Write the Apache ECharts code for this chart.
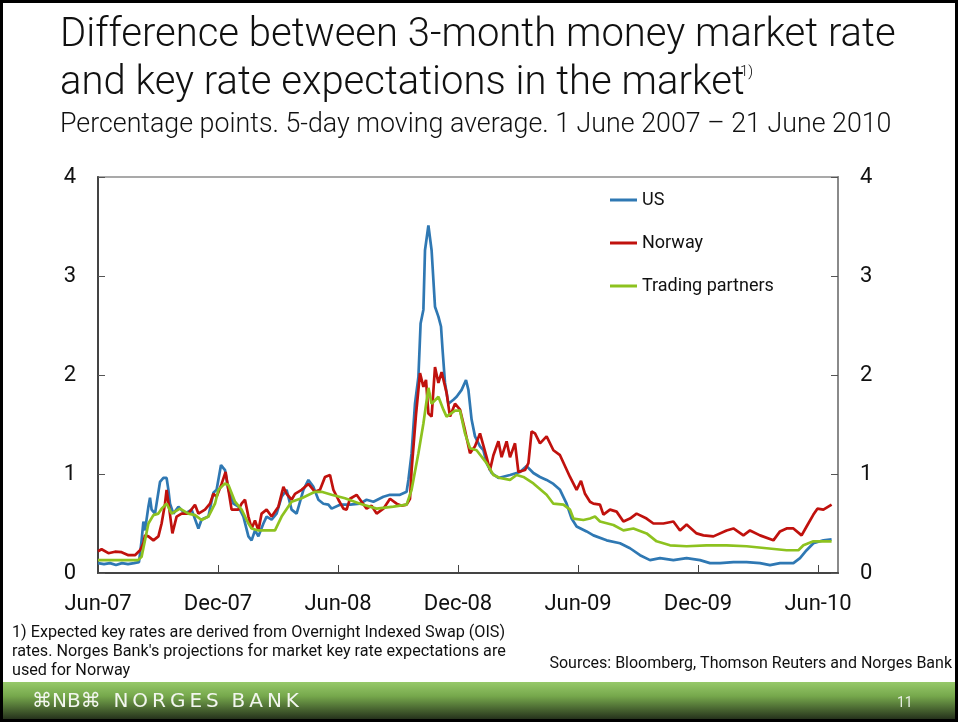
<!DOCTYPE html>
<html>
<head>
<meta charset="utf-8">
<script src="https://cdn.jsdelivr.net/npm/echarts@6/dist/echarts.min.js"></script>
<style>
html,body{margin:0;padding:0;background:#fff;}
#chart{width:958px;height:722px;}
</style>
</head>
<body>
<div id="chart"></div>
<script>
// x values: months since 1 June 2007
const xTickLabels = ['Jun-07','Dec-07','Jun-08','Dec-08','Jun-09','Dec-09','Jun-10'];
const yTickLabels = ['0','1','2','3','4'];
const seriesNames = ['US','Norway','Trading partners'];

const usData = [[0,0.10],[0.3,0.09],[0.6,0.10],[0.9,0.08],[1.2,0.10],[1.5,0.09],[1.8,0.10],[2.05,0.11],
[2.18,0.33],[2.27,0.52],[2.35,0.43],[2.52,0.67],[2.6,0.76],[2.68,0.64],[2.85,0.60],[3.1,0.92],[3.27,0.96],
[3.43,0.96],[3.52,0.84],[3.6,0.70],[3.77,0.60],[4.02,0.67],[4.35,0.60],[4.68,0.64],[5.02,0.45],[5.18,0.54],
[5.52,0.57],[5.77,0.81],[5.93,0.84],[6.15,1.09],[6.35,1.04],[6.52,0.84],[6.77,0.70],[7.02,0.67],[7.27,0.57],
[7.52,0.37],[7.68,0.33],[7.85,0.43],[8.02,0.37],[8.27,0.50],[8.43,0.57],[8.68,0.54],[8.93,0.60],[9.18,0.77],
[9.43,0.84],[9.68,0.64],[9.93,0.60],[10.27,0.84],[10.52,0.94],[10.77,0.87],[11.02,0.74],[11.27,0.70],
[11.52,0.69],[11.68,0.65],[12.1,0.69],[12.6,0.69],[13.1,0.70],[13.43,0.74],[13.77,0.72],[14.27,0.77],
[14.6,0.79],[15.1,0.79],[15.43,0.82],[15.52,0.94],[15.68,1.21],[15.85,1.71],[16.02,1.98],[16.13,2.52],
[16.27,2.66],[16.35,3.26],[16.52,3.51],[16.68,3.26],[16.85,2.69],[17.02,2.59],[17.15,2.49],[17.23,2.25],
[17.35,1.92],[17.52,1.71],[17.77,1.75],[17.93,1.78],[18.18,1.85],[18.4,1.95],[18.52,1.85],[18.68,1.55],
[18.85,1.38],[19.1,1.28],[19.27,1.24],[19.43,1.11],[19.68,1.01],[20.02,0.96],[20.6,0.99],[21.1,1.02],
[21.43,1.08],[21.77,1.01],[22.1,0.97],[22.43,0.94],[22.77,0.90],[23.1,0.84],[23.43,0.70],[23.68,0.55],
[23.93,0.47],[24.43,0.42],[24.77,0.38],[25.43,0.33],[26.1,0.30],[26.6,0.25],[27.1,0.18],[27.6,0.13],
[28.1,0.15],[28.77,0.13],[29.43,0.15],[30.1,0.13],[30.6,0.10],[31.1,0.10],[31.77,0.11],[32.43,0.11],
[33.1,0.10],[33.6,0.08],[34.1,0.10],[34.77,0.10],[35.1,0.15],[35.43,0.23],[35.77,0.30],[36.27,0.33],[36.68,0.34]];

const norwayData = [[0,0.22],[0.18,0.24],[0.52,0.20],[0.85,0.215],[1.18,0.21],[1.52,0.18],[1.85,0.18],[2.1,0.23],
[2.27,0.30],[2.35,0.38],[2.52,0.37],[2.77,0.33],[3.02,0.37],[3.18,0.50],[3.35,0.70],[3.43,0.84],[3.55,0.67],
[3.72,0.40],[3.93,0.57],[4.18,0.60],[4.52,0.60],[4.85,0.69],[5.02,0.60],[5.35,0.64],[5.6,0.70],[5.77,0.80],
[5.93,0.77],[6.18,0.90],[6.38,1.02],[6.52,0.84],[6.68,0.64],[7.02,0.64],[7.18,0.70],[7.35,0.74],[7.52,0.57],
[7.68,0.45],[7.85,0.53],[8.02,0.43],[8.18,0.60],[8.43,0.64],[8.68,0.57],[9.02,0.67],[9.27,0.87],[9.43,0.80],
[9.68,0.74],[9.85,0.80],[10.18,0.84],[10.52,0.90],[10.85,0.82],[11.1,0.84],[11.35,0.97],[11.6,0.99],
[11.77,0.84],[12.02,0.74],[12.27,0.65],[12.43,0.64],[12.6,0.75],[12.93,0.79],[13.18,0.72],[13.43,0.65],
[13.68,0.68],[13.93,0.60],[14.27,0.65],[14.6,0.75],[14.93,0.70],[15.18,0.68],[15.43,0.69],[15.6,0.75],
[15.68,1.04],[15.9,1.60],[16.1,2.02],[16.27,1.88],[16.4,1.95],[16.52,1.61],[16.68,1.58],[16.85,2.08],
[17.02,1.92],[17.18,2.03],[17.43,1.82],[17.6,1.58],[17.85,1.71],[18.1,1.65],[18.35,1.44],[18.6,1.21],
[18.85,1.28],[19.1,1.41],[19.43,1.17],[19.6,1.04],[19.77,1.19],[20.02,1.33],[20.18,1.17],[20.43,1.33],
[20.6,1.17],[20.85,1.31],[21.02,1.02],[21.35,1.04],[21.52,1.11],[21.68,1.43],[21.85,1.41],[22.1,1.31],
[22.43,1.38],[22.77,1.24],[23.1,1.19],[23.6,0.97],[23.93,0.84],[24.15,0.93],[24.35,0.80],[24.6,0.72],
[24.77,0.70],[25.1,0.69],[25.27,0.59],[25.6,0.64],[25.93,0.62],[26.27,0.52],[26.6,0.55],[26.93,0.60],
[27.43,0.55],[27.77,0.50],[28.27,0.50],[28.77,0.52],[29.1,0.43],[29.43,0.49],[29.93,0.40],[30.27,0.38],
[30.77,0.37],[31.43,0.43],[31.77,0.45],[32.27,0.38],[32.6,0.43],[33.1,0.38],[33.77,0.33],[34.1,0.42],
[34.43,0.45],[34.77,0.45],[35.18,0.38],[35.43,0.47],[35.77,0.59],[35.97,0.65],[36.27,0.64],[36.68,0.69]];

const tradingPartnersData = [[0,0.13],[1.0,0.13],[2.0,0.13],[2.18,0.165],[2.35,0.33],[2.52,0.50],[2.77,0.585],
[3.02,0.60],[3.18,0.65],[3.43,0.70],[3.68,0.60],[4.1,0.65],[4.52,0.60],[4.85,0.585],[5.18,0.535],[5.52,0.57],
[5.85,0.70],[6.02,0.84],[6.35,0.905],[6.52,0.89],[6.85,0.72],[7.18,0.64],[7.52,0.50],[7.68,0.45],[8.02,0.43],
[8.85,0.43],[9.18,0.57],[9.68,0.72],[10.18,0.755],[10.85,0.82],[11.18,0.82],[11.68,0.79],[12.35,0.755],
[13.1,0.70],[13.93,0.65],[14.77,0.67],[15.43,0.69],[15.68,0.84],[16.02,1.21],[16.27,1.51],[16.52,1.87],
[16.68,1.71],[17.02,1.78],[17.27,1.65],[17.43,1.58],[17.85,1.64],[18.1,1.64],[18.35,1.41],[18.6,1.26],
[18.93,1.24],[19.43,1.11],[19.77,0.99],[20.1,0.96],[20.6,0.94],[20.93,0.99],[21.27,0.97],[21.77,0.905],
[22.43,0.79],[22.77,0.70],[23.27,0.69],[23.6,0.64],[23.77,0.55],[24.27,0.535],[24.6,0.55],[24.85,0.57],
[25.1,0.52],[25.77,0.485],[26.27,0.43],[26.77,0.45],[27.43,0.40],[27.93,0.32],[28.6,0.28],[29.43,0.27],
[30.43,0.28],[31.43,0.28],[32.43,0.27],[33.43,0.25],[34.43,0.23],[35.02,0.23],[35.27,0.28],[35.77,0.32],
[36.43,0.32],[36.68,0.32]];

const colors = ['#2f78b3','#c0110d','#8dc21f'];
const FONT = 'Roboto';

const chart = echarts.init(document.getElementById('chart'), null, {renderer:'canvas'});

function txt(text, x, y, size, opts) {
  opts = opts || {};
  return {
    type: 'text', z: 100,
    style: {
      text: text, x: x, y: y,
      font: (opts.weight || 'normal') + ' ' + size + 'px ' + (opts.family || FONT),
      fill: opts.fill || '#111',
      align: opts.align || 'left',
      verticalAlign: 'middle'
    }
  };
}

const yAxisCommon = {
  type: 'value', min: 0, max: 4, interval: 1,
  splitLine: {show:false},
  axisTick: {show:true, inside:true, length:7, lineStyle:{color:'#555', width:1}},
  axisLabel: {fontSize:22, fontFamily:FONT, color:'#111', margin:22,
    formatter: v => yTickLabels[v]}
};

chart.setOption({
  animation: false,
  backgroundColor: '#ffffff',
  grid: {left:98, right:120, top:177, bottom:149, show:true, borderColor:'#a9a9a9', borderWidth:2, backgroundColor:'transparent'},
  legend: {
    data: seriesNames, orient:'vertical', left:610, top:190, padding:0,
    itemWidth:27, itemHeight:3, itemGap:23, icon:'rect',
    textStyle:{fontSize:18, fontFamily:FONT, color:'#111', lineHeight:20}
  },
  xAxis: {
    type:'value', min:0, max:37, interval:6,
    splitLine:{show:false},
    axisLine:{show:true, lineStyle:{color:'#444', width:2}},
    axisTick:{show:true, inside:true, length:8, lineStyle:{color:'#444', width:1}},
    axisLabel:{fontSize:22, fontFamily:FONT, color:'#111', margin:20, showMaxLabel:false,
      formatter: v => (v % 6 === 0 ? xTickLabels[v/6] : '')}
  },
  yAxis: [
    Object.assign({}, yAxisCommon, {position:'left', axisLine:{show:true, lineStyle:{color:'#444', width:2}}}),
    Object.assign({}, yAxisCommon, {position:'right', axisLine:{show:true, lineStyle:{color:'#8a8a8a', width:2}}})
  ],
  series: [
    {name:seriesNames[0], type:'line', data:usData, showSymbol:false, lineStyle:{width:2.7, color:colors[0]}, itemStyle:{color:colors[0]}},
    {name:seriesNames[1], type:'line', data:norwayData, showSymbol:false, lineStyle:{width:2.7, color:colors[1]}, itemStyle:{color:colors[1]}},
    {name:seriesNames[2], type:'line', data:tradingPartnersData, showSymbol:false, lineStyle:{width:2.7, color:colors[2]}, itemStyle:{color:colors[2]}}
  ],
  graphic: [
    txt('Difference between 3-month money market rate', 60, 36, 40, {weight:300}),
    txt('and key rate expectations in the market', 60, 84, 40, {weight:300}),
    txt('1)', 740, 72, 15, {weight:300}),
    txt('Percentage points. 5-day moving average. 1 June 2007 \u2013 21 June 2010', 60, 125, 26.8, {weight:300}),
    txt('1) Expected key rates are derived from Overnight Indexed Swap (OIS)', 12, 633, 16.2),
    txt('rates. Norges Bank\'s projections for market key rate expectations are', 12, 652, 16.2),
    txt('used for Norway', 12, 671, 16.2),
    txt('Sources: Bloomberg, Thomson Reuters and Norges Bank', 952, 664, 16, {align:'right'}),
    {type:'rect', z:90, shape:{x:0, y:682, width:958, height:40},
      style:{fill:new echarts.graphic.LinearGradient(0,0,0,1,[
        {offset:0, color:'#97c96a'},{offset:0.35, color:'#76a84c'},{offset:1, color:'#1b2316'}])}},
    txt('\u2318NB\u2318  N\u2009O\u2009R\u2009G\u2009E\u2009S  B\u2009A\u2009N\u2009K', 32, 702, 20, {fill:'#f2f6ee', family:'DejaVu Sans'}),
    txt('11', 897, 703, 14, {fill:'#e8efe4'}),
    {type:'rect', z:110, shape:{x:1.5, y:1.5, width:955, height:719}, style:{fill:'none', stroke:'#000', lineWidth:3}}
  ]
});
</script>
</body>
</html>
